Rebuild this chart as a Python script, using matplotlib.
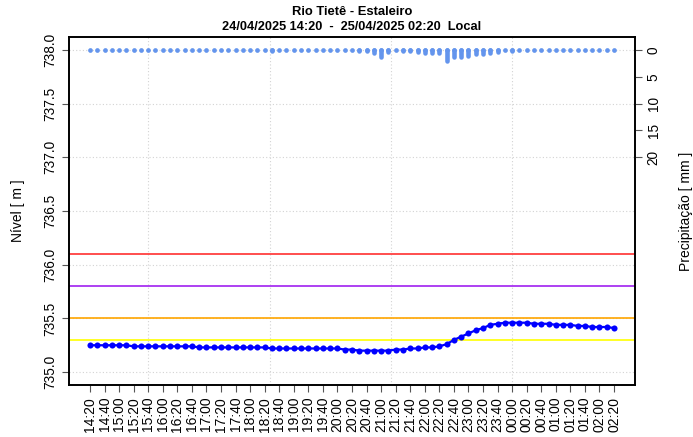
import numpy as np
import pandas as pd
import matplotlib
matplotlib.use('Agg')
import matplotlib.pyplot as plt

plt.rcParams['font.family'] = ['Liberation Sans', 'DejaVu Sans']

# 10-minute readings, 24/04/2025 14:20 -> 25/04/2025 02:20 (local, UTC-3)
times = pd.date_range('2025-04-24 14:20', '2025-04-25 02:20', freq='10min')

level = ([735.25] * 6 + [735.24] * 9 + [735.23] * 10 + [735.22] * 10 +
         [735.21, 735.21, 735.20, 735.20, 735.20, 735.20, 735.20,
          735.21, 735.21, 735.22, 735.22, 735.23, 735.23, 735.24,
          735.26, 735.30, 735.33, 735.36, 735.39, 735.41, 735.44,
          735.45, 735.46, 735.46, 735.46, 735.46, 735.45, 735.45,
          735.45, 735.44, 735.44, 735.44, 735.43, 735.43, 735.42,
          735.42, 735.42, 735.41])

precip = [0.0] * 73
for i, v in {25: 0.2, 37: 0.3, 38: 0.3, 39: 0.6, 40: 1.3, 41: 0.4, 42: 0.1,
             43: 0.2, 44: 0.2, 45: 0.4, 46: 0.5, 47: 0.5, 48: 0.5, 49: 2.0,
             50: 1.4, 51: 1.3, 52: 1.2, 53: 0.8, 54: 0.8, 55: 0.5, 56: 0.4,
             57: 0.1, 58: 0.3}.items():
    precip[i] = v

# reference levels
ref_levels = [736.1, 735.8, 735.5, 735.3]
ref_colors = ['#FF3030', '#A020F0', '#FFA500', '#FFFF00']

tick_times = pd.date_range(times[0], times[-1], freq='20min')
tick_labels = tick_times.strftime('%H:%M')

x = (times - times[0]).total_seconds() / 60
xt = (tick_times - times[0]).total_seconds() / 60

# vertical grid at multiples of 10000 s of the epoch (R pretty ticks)
t0 = (times[0] + pd.Timedelta(hours=3)).timestamp()
t1 = t0 + x[-1] * 60
gsec = np.arange(np.ceil(t0 / 10000) * 10000, t1, 10000)
xg = (gsec - t0) / 60

fig = plt.figure(figsize=(6.93, 4.37), dpi=100)
ax = fig.add_axes([69 / 693, 52 / 437, 566 / 693, 348 / 437])

for yv in np.arange(735.0, 738.01, 0.5):
    ax.axhline(yv, color='#D3D3D3', lw=0.8, ls=(0, (1, 2)), zorder=0)
for xv in xg:
    ax.axvline(xv, color='#D3D3D3', lw=0.8, ls=(0, (1, 2)), zorder=0)

for yv, c in zip(ref_levels, ref_colors):
    ax.axhline(yv, color=c, lw=1.2, zorder=1)

ax.plot(x, level, color='#0000FF', lw=1.6, marker='o', ms=4.4,
        markeredgewidth=0, zorder=3)

pad = x[-1] * 0.04
ax.set_xlim(-pad, x[-1] + pad)
ax.set_ylim(734.88, 738.12)
ax.set_yticks(np.arange(735.0, 738.01, 0.5))
ax.set_yticklabels(['%.1f' % v for v in np.arange(735.0, 738.01, 0.5)],
                   rotation=90, va='center', fontsize=9.8)
ax.set_xticks(xt)
ax.set_xticklabels(tick_labels, rotation=90, fontsize=10)
ax.tick_params(axis='both', length=5, width=0.8, color='#555555')
ax.set_ylabel('Nível [ m ]', fontsize=10, va='center')
ax.yaxis.set_label_coords(-0.090, 0.5)

ax2 = ax.twinx()
ax2.vlines(x, 0, precip, color='#6495ED', lw=3.3, capstyle='round', zorder=2)
ax2.plot(x, [0] * len(x), 'o', color='#6495ED', ms=3.4, markeredgewidth=0)
ax2.set_ylim(62.4, -2.4)
ax2.set_yticks([0, 5, 10, 15, 20])
ax2.set_yticklabels(['0', '5', '10', '15', '20'], rotation=90, va='center',
                    fontsize=9.8)
ax2.tick_params(axis='y', length=5, width=0.8, color='#555555')
ax2.set_ylabel('Precipitação [ mm ]', fontsize=10, va='center')
ax2.yaxis.set_label_coords(1.090, 0.5)

for a in (ax, ax2):
    for s in a.spines.values():
        s.set_linewidth(1.2)

fig.text(352 / 693, 1 - 12 / 437, 'Rio Tietê - Estaleiro', ha='center',
         va='center', fontsize=9.4, fontweight='bold')
fig.text(352 / 693, 1 - 27 / 437,
         '24/04/2025 14:20  -  25/04/2025 02:20  Local', ha='center',
         va='center', fontsize=9.2, fontweight='bold')

fig.savefig('out.png', dpi=100)
